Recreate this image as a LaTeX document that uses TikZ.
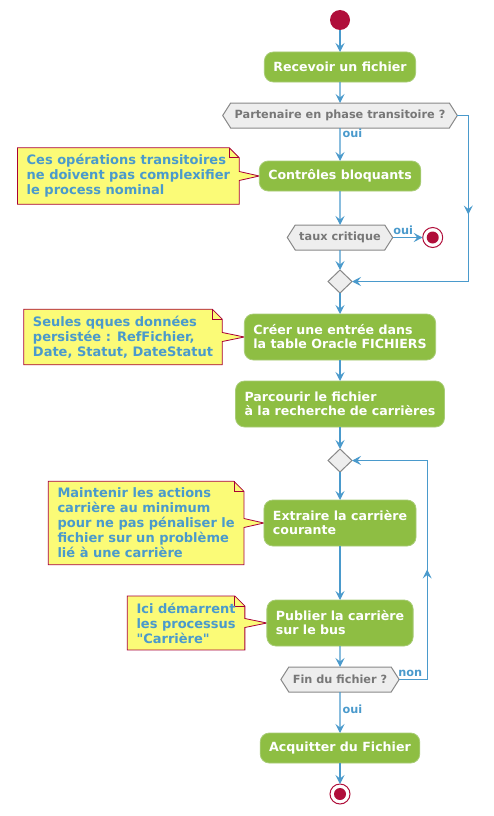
\documentclass[tikz,border=0pt]{standalone}
\usepackage{fontspec}
\newfontfamily\dejavu{DejaVu Sans}
\usetikzlibrary{shapes.geometric, shapes.symbols, arrows.meta, positioning, calc,
                backgrounds, decorations.markings}
\definecolor{actgreen}{RGB}{142,190,67}
\definecolor{actline}{RGB}{168,204,118}
\definecolor{flowblue}{RGB}{74,154,204}
\definecolor{notefill}{RGB}{251,251,119}
\definecolor{noteline}{RGB}{168,0,54}
\definecolor{hexfill}{RGB}{238,238,238}
\definecolor{hexline}{RGB}{136,136,136}
\definecolor{hextext}{RGB}{119,119,119}
\definecolor{dotred}{RGB}{176,14,58}

% note outline with folded corner and pointer towards the action
\newcommand{\drawnote}[2]{%
  \draw[noteline, fill=notefill, line width=0.8pt]
    (#1.north west) -- ($(#1.north east)+(-10,0)$) -- ($(#1.north east)+(0,-10)$)
    -- ($(#1.east)+(0,4.5)$) -- (#2.west) -- ($(#1.east)+(0,-4.5)$)
    -- (#1.south east) -- (#1.south west) -- cycle;
  \draw[noteline, line width=0.8pt]
    ($(#1.north east)+(-10,0)$) -- ($(#1.north east)+(-10,-10)$) -- ($(#1.north east)+(0,-10)$);
}

\begin{document}
\begin{tikzpicture}[
    x=1pt, y=1pt,
    action/.style={rectangle, rounded corners=9pt, draw=actline, fill=actgreen, text=white, font=\dejavu\fontsize{12.6}{14}\selectfont\bfseries, align=left, inner xsep=9pt, inner ysep=8pt, minimum height=30pt, line width=0.8pt, outer sep=0pt},
    tall/.style={minimum height=46pt},
    choice/.style={signal, signal to=east and west, signal pointer angle=115, draw=hexline, fill=hexfill, text=hextext, font=\dejavu\fontsize{11.3}{13}\selectfont\bfseries, inner xsep=4pt, minimum height=25pt, line width=1pt, outer sep=0pt},
    mergebox/.style={diamond, draw=hexline, fill=hexfill, minimum width=24pt, minimum height=23pt, inner sep=0pt, line width=1pt, outer sep=0pt},
    startdot/.style={circle, fill=dotred, minimum size=20pt, inner sep=0pt, outer sep=0pt},
    stopdot/.style={circle, draw=dotred, fill=white, line width=1pt, minimum size=20pt, inner sep=0pt, outer sep=0pt, path picture={\fill[dotred] (path picture bounding box.center) circle (6pt);}},
    notebox/.style={text=flowblue, font=\dejavu\fontsize{13}{15}\selectfont\bfseries, align=left, inner xsep=9pt, inner ysep=6.5pt},
    flow/.style={-{Stealth[length=9pt, width=9pt, inset=3.5pt]}, line width=1.1pt, color=flowblue},
    midarrow/.style={postaction={decorate, decoration={markings, mark=at position #1 with {\arrow{Stealth[length=9pt, width=9pt, inset=3.5pt]}}}}},
    flowlabel/.style={text=flowblue, font=\dejavu\fontsize{11.3}{13}\selectfont\bfseries, inner sep=2pt}
]
\useasboundingbox (0,0) rectangle (494,-816);

% === Main flow ===
\node[startdot] (init) at (340,-20) {};
\node[action, below=22pt of init] (recv) {Recevoir un fichier};
\node[choice, below=21pt of recv] (partner) {Partenaire en phase transitoire ?};
\node[action, below=33pt of partner] (ctrl) {Contrôles bloquants};
\node[choice, below=34pt of ctrl] (rate) {taux critique};
\node[stopdot, right=30pt of rate] (abort) {};
\node[mergebox, below=20pt of rate] (join) {};
\node[action, tall, below=21pt of join] (create) {Créer une entrée dans\\la table Oracle FICHIERS};
\node[action, tall, below=21pt of create] (scan) {Parcourir le fichier\\à la recherche de carrières};
\node[mergebox, below=22pt of scan] (loop) {};
\node[action, tall, below=28pt of loop] (extract) {Extraire la carrière\\courante};
\node[action, tall, below=54pt of extract] (publish) {Publier la carrière\\sur le bus};
\node[choice, below=21pt of publish] (eof) {Fin du fichier ?};
\node[action, below=41pt of eof] (ack) {Acquitter du Fichier};
\node[stopdot, below=21pt of ack] (done) {};

% === Notes ===
\node[notebox, left=20pt of ctrl] (n_trans) {Ces opérations transitoires\\ne doivent pas complexifier\\le process nominal};
\node[notebox, left=22pt of create] (n_persist) {Seules qques données\\persistée : RefFichier,\\Date, Statut, DateStatut};
\node[notebox, left=20pt of extract] (n_min) {Maintenir les actions\\carrière au minimum\\pour ne pas pénaliser le\\fichier sur un problème\\lié à une carrière};
\node[notebox, left=22pt of publish] (n_proc) {Ici démarrent\\les processus\\"Carrière"};

\begin{scope}[on background layer]
\drawnote{n_trans}{ctrl}
\drawnote{n_persist}{create}
\drawnote{n_min}{extract}
\drawnote{n_proc}{publish}
\end{scope}

% === Arrows ===
\draw[flow] (init) -- (recv);
\draw[flow] (recv) -- (partner);
\draw[flow] (partner) -- node[flowlabel, right, pos=0.15] {oui} (ctrl);
\draw[flow] (ctrl) -- (rate);
\draw[flow] (rate.east) -- node[flowlabel, above, pos=0.35] {oui} (abort);
\draw[flow] (rate) -- (join);
\draw[flow, midarrow=110pt] (partner.east) -- ++(11,0) |- (join.east);
\draw[flow] (join) -- (create);
\draw[flow] (create) -- (scan);
\draw[flow] (scan) -- (loop);
\draw[flow] (loop) -- (extract);
\draw[flow] (extract) -- (publish);
\draw[flow] (publish) -- (eof);
\draw[flow, midarrow=138pt] (eof.east) -- node[flowlabel, above, pos=0.4] {non} ++(28,0) |- (loop.east);
\draw[flow] (eof) -- node[flowlabel, right, pos=0.41] {oui} (ack);
\draw[flow] (ack) -- (done);

\end{tikzpicture}
\end{document}
